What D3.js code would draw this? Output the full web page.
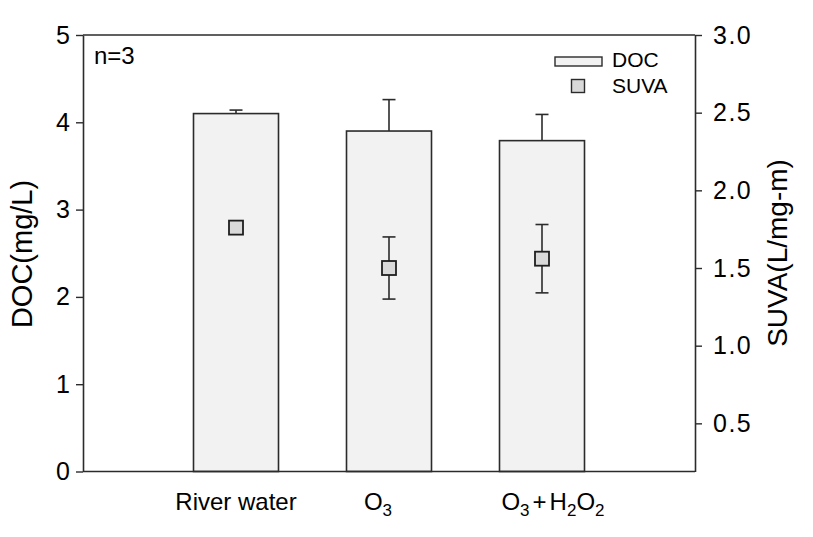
<!DOCTYPE html>
<html><head><meta charset="utf-8">
<script src="https://cdn.jsdelivr.net/npm/d3@7"></script>
<style>body{margin:0;background:#fff;} text{font-family:"Liberation Sans",Arial,sans-serif;fill:#000;}</style>
</head><body><svg id="c" width="813" height="537"></svg>
<script>
const categories = ["River water", "O3", "O3+H2O2"];
const docValues = [4.10, 3.90, 3.79];
const docErrors = [0.04, 0.36, 0.30];
const suvaValues = [1.76, 1.50, 1.56];
const suvaErrors = [0.02, 0.20, 0.22];
const leftTicks = [0, 1, 2, 3, 4, 5];
const rightTicks = [0.5, 1.0, 1.5, 2.0, 2.5, 3.0];

const svg = d3.select("#c");
const L = 83, R = 695, T = 35, B = 471.5;
const x = d3.scaleLinear().domain([0, categories.length + 1]).range([L, R]);
const yL = d3.scaleLinear().domain([0, 5]).range([B, T]);
const yR = d3.scaleLinear().domain([0.19, 3.0]).range([B, T]);
const barW = 85, cap = 13;
const stroke = "#2b2b2b";

const g = svg.append("g");
categories.forEach((c, i) => {
  const cx = x(i + 1);
  g.append("line").attr("x1", cx).attr("x2", cx).attr("y1", yL(docValues[i])).attr("y2", yL(docValues[i] + docErrors[i])).attr("stroke", stroke).attr("stroke-width", 1.6);
  g.append("line").attr("x1", cx - cap/2).attr("x2", cx + cap/2).attr("y1", yL(docValues[i] + docErrors[i])).attr("y2", yL(docValues[i] + docErrors[i])).attr("stroke", stroke).attr("stroke-width", 1.6);
  g.append("rect").attr("x", cx - barW/2).attr("y", yL(docValues[i])).attr("width", barW).attr("height", yL(0) - yL(docValues[i]))
    .attr("fill", "#f2f2f2").attr("stroke", stroke).attr("stroke-width", 1.6);
});
categories.forEach((c, i) => {
  const cx = x(i + 1);
  const lo = yR(suvaValues[i] - suvaErrors[i]), hi = yR(suvaValues[i] + suvaErrors[i]);
  g.append("line").attr("x1", cx).attr("x2", cx).attr("y1", lo).attr("y2", hi).attr("stroke", stroke).attr("stroke-width", 1.6);
  [lo, hi].forEach(yy => g.append("line").attr("x1", cx - cap/2).attr("x2", cx + cap/2).attr("y1", yy).attr("y2", yy).attr("stroke", stroke).attr("stroke-width", 1.6));
  g.append("rect").attr("x", cx - 7).attr("y", yR(suvaValues[i]) - 7).attr("width", 14).attr("height", 14)
    .attr("fill", "#d9d9d9").attr("stroke", "#1e1e1e").attr("stroke-width", 1.8);
});

const axL = svg.append("g").attr("transform", `translate(${L},0)`)
  .call(d3.axisLeft(yL).tickValues(leftTicks).tickFormat(d3.format("d")).tickSizeInner(7).tickSizeOuter(0).tickPadding(6));
const axR = svg.append("g").attr("transform", `translate(${R},0)`)
  .call(d3.axisRight(yR).tickValues(rightTicks).tickFormat(d3.format(".1f")).tickSizeInner(7).tickSizeOuter(0).tickPadding(11));
[axL, axR].forEach(a => {
  a.select(".domain").attr("stroke", stroke).attr("stroke-width", 1.6);
  a.selectAll(".tick line").attr("stroke", stroke).attr("stroke-width", 1.4);
  a.selectAll(".tick text").attr("font-size", 25).attr("font-family", "Liberation Sans, Arial, sans-serif").attr("fill", "#000");
});
axR.selectAll(".tick text").attr("letter-spacing", 1.5);
svg.append("line").attr("x1", L).attr("x2", R).attr("y1", T).attr("y2", T).attr("stroke", stroke).attr("stroke-width", 1.6);
svg.append("line").attr("x1", L).attr("x2", R).attr("y1", B).attr("y2", B).attr("stroke", stroke).attr("stroke-width", 1.6);

function xLabel(i, shift, parts) {
  const t = svg.append("text").attr("x", x(i + 1) + shift).attr("y", 510).attr("text-anchor", "middle").attr("font-size", 24);
  parts.forEach(p => {
    const s = t.append("tspan").text(p[0]);
    if (p[1] === "sub") s.attr("font-size", 17).attr("dy", 6);
    else if (p[1] === "up") s.attr("dy", -6);
    if (p[2]) s.attr("dx", p[2]);
  });
}
xLabel(0, 0, [["River water"]]);
xLabel(1, -11, [["O"], ["3", "sub"]]);
xLabel(2, 11, [["O"], ["3", "sub"], ["+", "up", 3], ["H", null, 3], ["2", "sub"], ["O", "up"], ["2", "sub"]]);

svg.append("text").attr("transform", `translate(32,254) rotate(-90)`).attr("text-anchor", "middle").attr("font-size", 29).text("DOC(mg/L)");
svg.append("text").attr("transform", `translate(787,253) rotate(-90)`).attr("text-anchor", "middle").attr("font-size", 28).text("SUVA(L/mg-m)");

svg.append("text").attr("x", 94).attr("y", 64).attr("font-size", 24).text("n=3");

svg.append("rect").attr("x", 555).attr("y", 57).attr("width", 47).attr("height", 9).attr("fill", "#f2f2f2").attr("stroke", stroke).attr("stroke-width", 1.4);
svg.append("text").attr("x", 612).attr("y", 67).attr("font-size", 21).text("DOC");
svg.append("rect").attr("x", 571.5).attr("y", 79.5).attr("width", 13).attr("height", 13).attr("fill", "#d9d9d9").attr("stroke", stroke).attr("stroke-width", 1.4);
svg.append("text").attr("x", 612).attr("y", 93).attr("font-size", 21).text("SUVA");
</script></body></html>
